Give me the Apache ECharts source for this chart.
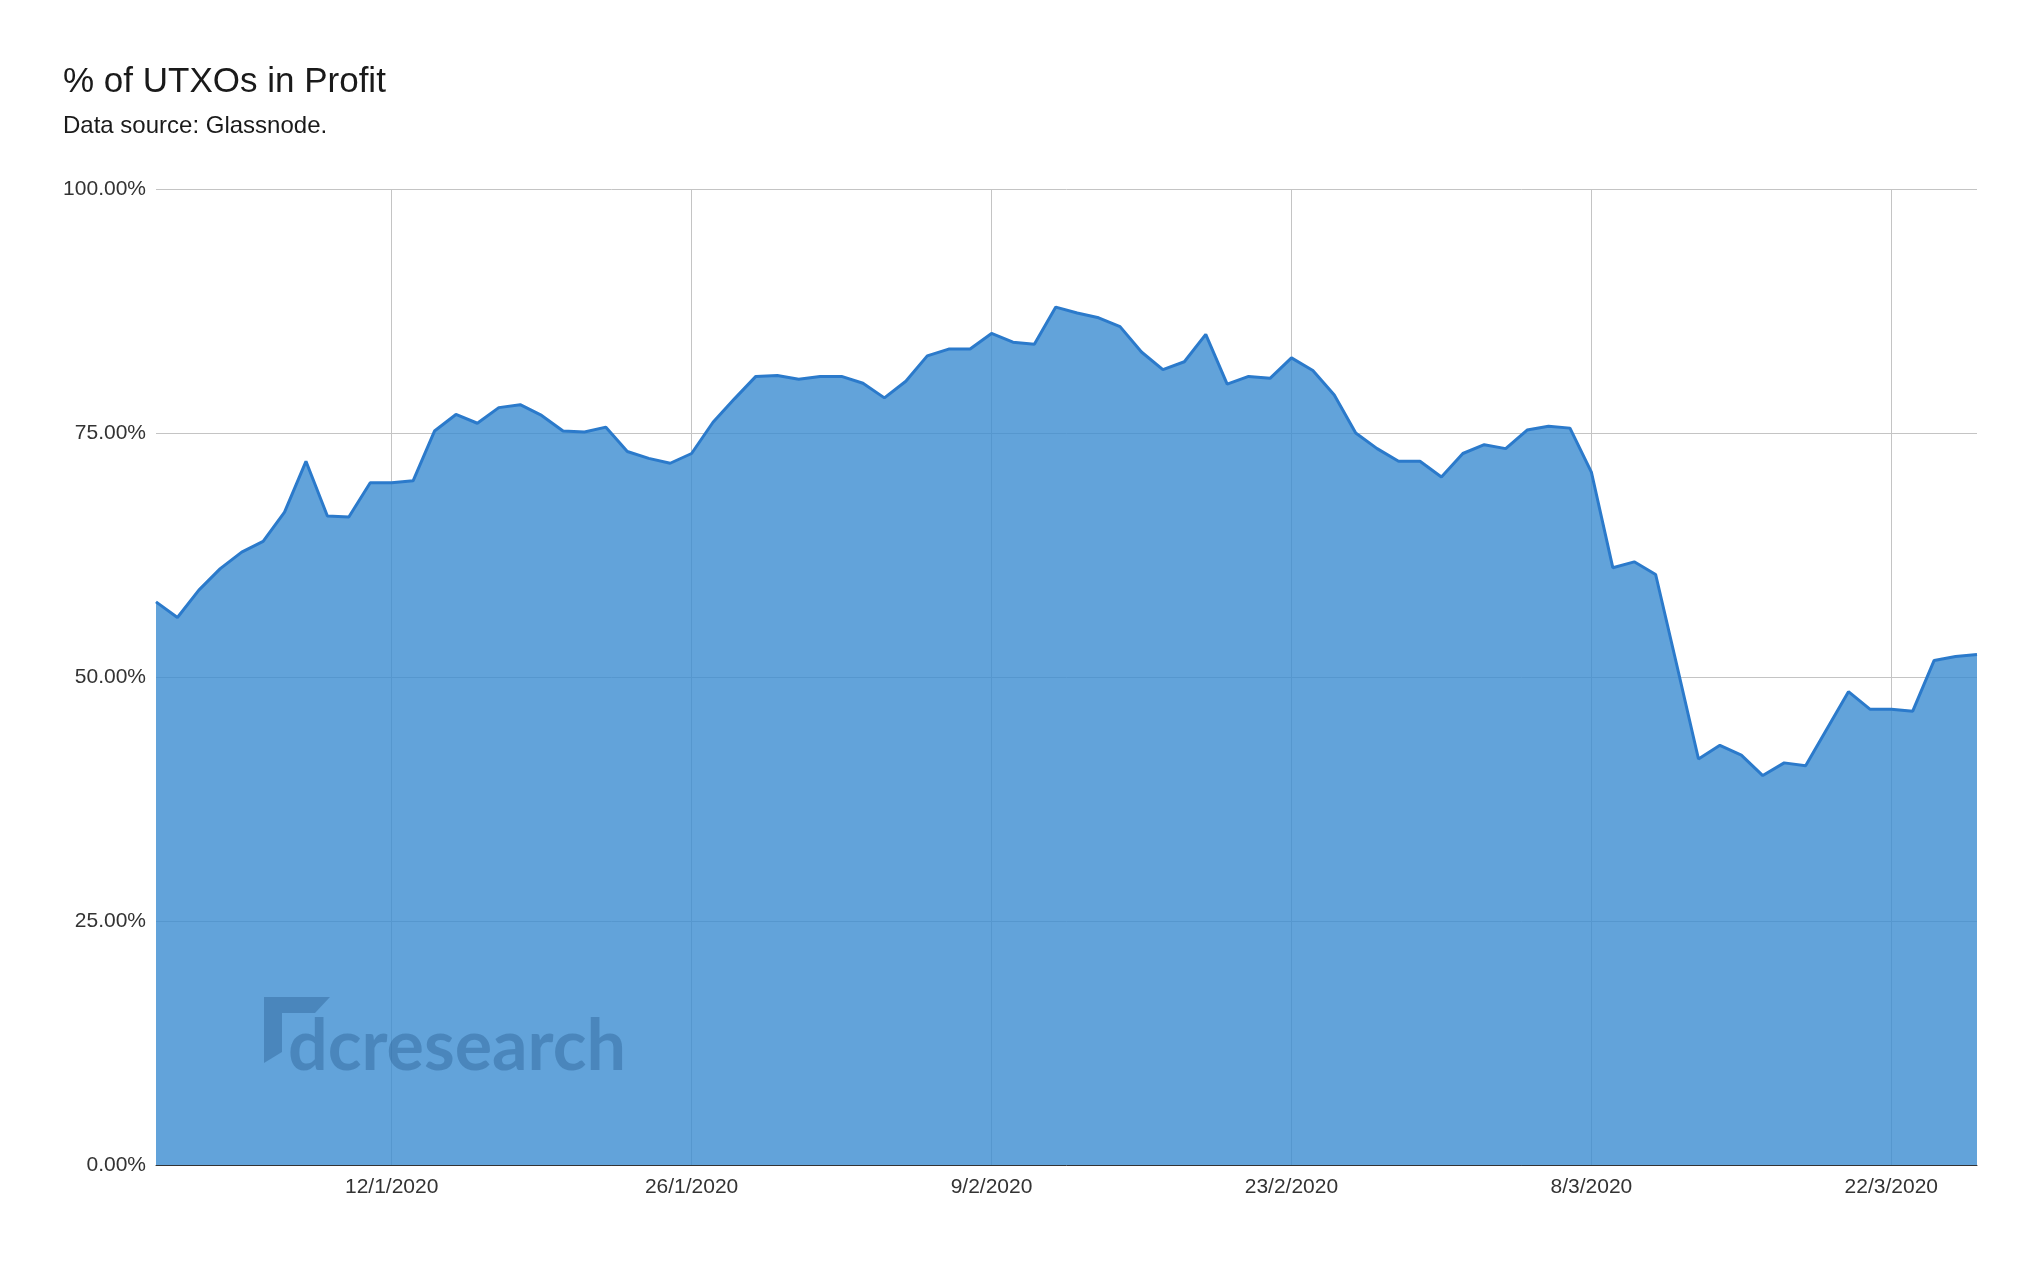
<!DOCTYPE html>
<html>
<head>
<meta charset="utf-8">
<script src="https://cdn.jsdelivr.net/npm/echarts@6/dist/echarts.min.js"></script>
<style>
html,body{margin:0;padding:0;background:#fff;}
#chart{width:2040px;height:1261px;}
</style>
</head>
<body>
<div id="chart"></div>
<script>
const dates = [
 "1/1/2020","2/1/2020","3/1/2020","4/1/2020","5/1/2020","6/1/2020","7/1/2020","8/1/2020","9/1/2020","10/1/2020",
 "11/1/2020","12/1/2020","13/1/2020","14/1/2020","15/1/2020","16/1/2020","17/1/2020","18/1/2020","19/1/2020","20/1/2020",
 "21/1/2020","22/1/2020","23/1/2020","24/1/2020","25/1/2020","26/1/2020","27/1/2020","28/1/2020","29/1/2020","30/1/2020",
 "31/1/2020","1/2/2020","2/2/2020","3/2/2020","4/2/2020","5/2/2020","6/2/2020","7/2/2020","8/2/2020","9/2/2020",
 "10/2/2020","11/2/2020","12/2/2020","13/2/2020","14/2/2020","15/2/2020","16/2/2020","17/2/2020","18/2/2020","19/2/2020",
 "20/2/2020","21/2/2020","22/2/2020","23/2/2020","24/2/2020","25/2/2020","26/2/2020","27/2/2020","28/2/2020","29/2/2020",
 "1/3/2020","2/3/2020","3/3/2020","4/3/2020","5/3/2020","6/3/2020","7/3/2020","8/3/2020","9/3/2020","10/3/2020",
 "11/3/2020","12/3/2020","13/3/2020","14/3/2020","15/3/2020","16/3/2020","17/3/2020","18/3/2020","19/3/2020","20/3/2020",
 "21/3/2020","22/3/2020","23/3/2020","24/3/2020","25/3/2020","26/3/2020"
];
const utxoProfitPct = [
 57.7,56.1,58.9,61.1,62.8,63.9,66.9,72.1,66.5,66.4,
 69.9,69.9,70.1,75.2,76.9,76.0,77.6,77.9,76.8,75.2,
 75.1,75.6,73.1,72.4,71.9,72.9,76.1,78.5,80.8,80.9,
 80.5,80.8,80.8,80.1,78.6,80.3,82.9,83.6,83.6,85.2,
 84.3,84.1,87.9,87.3,86.8,85.9,83.3,81.5,82.3,85.1,
 80.0,80.8,80.6,82.7,81.4,78.9,75.0,73.4,72.1,72.1,
 70.5,72.9,73.8,73.4,75.3,75.7,75.5,71.0,61.2,61.8,
 60.5,51.1,41.6,43.0,42.0,39.9,41.2,40.9,44.7,48.5,
 46.7,46.7,46.5,51.7,52.1,52.3
];
const xTickLabels = ["12/1/2020","26/1/2020","9/2/2020","23/2/2020","8/3/2020","22/3/2020"];
const yTicks = [0,25,50,75,100];

const FONT = '"Liberation Sans", Arial, Helvetica, sans-serif';
const chart = echarts.init(document.getElementById('chart'), null, {renderer:'canvas'});
const showTick = (i) => xTickLabels.indexOf(dates[i]) >= 0;

chart.setOption({
  animation:false,
  backgroundColor:'#ffffff',
  title:[
    {text:'% of UTXOs in Profit', left:58, top:58,
     textStyle:{fontFamily:FONT, fontSize:35, fontWeight:'normal', color:'#1a1a1a', lineHeight:38}},
    {text:'Data source: Glassnode.', left:58, top:107,
     textStyle:{fontFamily:FONT, fontSize:24, fontWeight:'normal', color:'#1a1a1a', lineHeight:28}}
  ],
  grid:{left:156, right:63, top:189, bottom:96, containLabel:false},
  xAxis:{
    type:'category', data:dates, boundaryGap:false,
    axisLine:{show:true, lineStyle:{color:'#333333', width:1}},
    axisTick:{show:false},
    axisLabel:{interval:(i)=>showTick(i), color:'#333333', fontFamily:FONT, fontSize:21, margin:12},
    splitLine:{show:true, interval:(i)=>showTick(i), lineStyle:{color:'#c4c4c4', width:1}}
  },
  yAxis:{
    type:'value', min:yTicks[0], max:yTicks[yTicks.length-1], interval:25,
    axisLine:{show:false}, axisTick:{show:false},
    axisLabel:{formatter:(v)=>v.toFixed(2)+'%', color:'#333333', fontFamily:FONT, fontSize:21, margin:10},
    splitLine:{show:true, lineStyle:{color:'#c4c4c4', width:1}}
  },
  series:[{
    type:'line', data:utxoProfitPct, symbol:'none', smooth:false,
    lineStyle:{color:'#2b7acb', width:3},
    areaStyle:{color:'rgb(59,140,209)', opacity:0.8}
  }],
  graphic:[
    {type:'polygon', z:100, silent:true,
     shape:{points:[[264,997],[330,997],[315,1013],[282,1013],[282,1052],[264,1063]]},
     style:{fill:'rgba(20,70,120,0.3)'}},
    {type:'text', z:100, silent:true, left:288, top:1012,
     style:{text:'dcresearch', fill:'rgba(20,70,120,0.3)', font:'bold 70px Lato, "Open Sans", sans-serif'}}
  ]
});
</script>
</body>
</html>
